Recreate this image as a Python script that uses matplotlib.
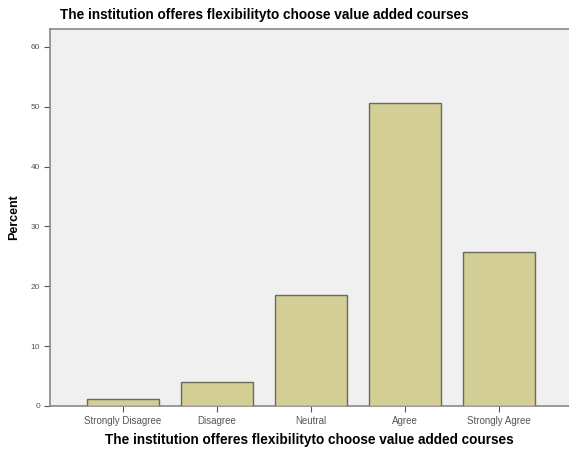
import matplotlib
matplotlib.use("Agg")
import matplotlib.pyplot as plt
import numpy as np

categories = ["Strongly Disagree", "Disagree", "Neutral", "Agree", "Strongly Agree"]
percent = [1.2, 4.0, 18.6, 50.6, 25.7]
yticks = [0, 10, 20, 30, 40, 50, 60]
title = "The institution offeres flexibilityto choose value added courses"

plt.rcParams['font.family'] = ['Liberation Sans', 'DejaVu Sans']

fig = plt.figure(figsize=(5.69, 4.53), dpi=100)
ax = fig.add_axes([50/569, 47/453, 519/569, 377/453])
ax.set_facecolor("#f0f0f0")

x = np.arange(len(categories))
ax.bar(x, percent, width=0.76, color="#d3cd96", edgecolor="#6b6b5a", linewidth=1.0, zorder=3)

ax.set_xlim(-0.777, 4.745)
ax.set_ylim(0, 63)
ax.set_xticks(x)
ax.set_xticklabels(categories, fontsize=7, color="#555555")
ax.set_yticks(yticks)
ax.set_yticklabels([str(v) for v in yticks], fontsize=6, color="#555555")
ax.tick_params(axis="both", length=4, width=0.8, color="#555555", pad=3)

for side in ["left", "bottom", "top"]:
    ax.spines[side].set_color("#888888")
    ax.spines[side].set_linewidth(1.2)
ax.spines["right"].set_visible(False)

ax.set_xlabel(title, fontsize=9.8, fontweight="bold", labelpad=5)
ax.set_ylabel("Percent", fontsize=9, fontweight="bold")
ax.yaxis.set_label_coords(-0.057, 0.5)
fig.text(264/569, 1 - 15/453, title, fontsize=9.8, fontweight="bold", ha="center", va="center")

fig.savefig("out.png", dpi=100)
